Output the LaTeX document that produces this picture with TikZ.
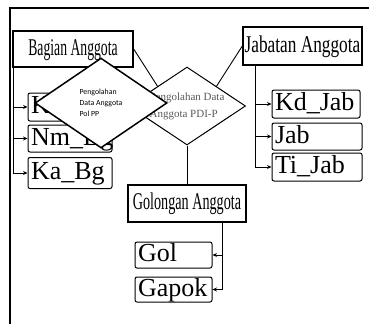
\documentclass[tikz,border=0pt]{standalone}
\usepackage{fontspec}
\setmainfont{Liberation Serif}
\newfontfamily\calibrifont{Carlito}
\usetikzlibrary{shapes.geometric,arrows.meta}
\newcommand{\condtext}[2]{\scalebox{#1}[1]{#2}}

\begin{document}
\begin{tikzpicture}[x=1pt,y=-1pt,>={Stealth[length=4.5pt,width=4pt]},
	entity/.style={draw, line width=1.4pt, inner sep=0pt, font=\fontsize{24}{24}\selectfont, text height=17pt, text depth=5pt},
	attr/.style={draw, line width=1pt, rounded corners=2pt, inner xsep=3pt, inner ysep=0pt, minimum height=28pt, text width=#1, align=left, font=\fontsize{26}{26}\selectfont, text height=18pt, text depth=5pt},
	link/.style={line width=0.9pt},
	relation/.style={draw, diamond, inner sep=0pt, line width=1pt}]
				\useasboundingbox (0,0) rectangle (369,324);
				% Frame
				\draw[line width=2.5pt] (369,8) -- (10,8) -- (10,324);
				
				% Bagian Anggota
				\node[entity, minimum width=120pt, minimum height=36pt] (bag) at (73,49) {\condtext{0.57}{Bagian Anggota}};
				\node[attr=78pt] (kdbg) at (70,107) {Kd\_Bg};
				\node[attr=78pt, minimum height=27pt] (nmbg) at (70,138.5) {Nm\_Bg};
				\node[attr=78pt, minimum height=31pt] (kabg) at (70,173) {Ka\_Bg};
				\coordinate (bt) at (13.5,67);
				\draw[link, ->] (bt) |- (kabg.west);
				\draw[link, ->] (bt |- kdbg.west) -- (kdbg.west);
				\draw[link, ->] (bt |- nmbg.west) -- (nmbg.west);
				
				% Jabatan Anggota
				\node[entity, minimum width=119pt, minimum height=38pt] (jabat) at (302.5,46) {\condtext{0.72}{Jabatan Anggota}};
				\node[attr=82pt] (kdjab) at (316,104) {Kd\_Jab};
				\node[attr=84pt, minimum height=27pt] (jab) at (317,136.5) {Jab};
				\node[attr=84pt] (tijab) at (317,167) {Ti\_Jab};
				\coordinate (jt) at (255,65);
				\draw[link, ->] (jt) |- (tijab.west);
				\draw[link, ->] (jt |- kdjab.west) -- (kdjab.west);
				\draw[link, ->] (jt |- jab.west) -- (jab.west);
				
				% Golongan Anggota
				\node[entity, minimum width=118pt, minimum height=37pt] (gols) at (187,203.5) {\condtext{0.59}{Golongan Anggota}};
				\node[attr=71pt, minimum height=26pt] (gol) at (173.5,255) {Gol};
				\node[attr=71pt, minimum height=25pt] (gapok) at (173.5,289.5) {Gapok};
				\coordinate (gt) at (222,222);
				\draw[link, ->] (gt) |- (gapok.east);
				\draw[link, ->] (gt |- gol.east) -- (gol.east);
				
				% Relation PDI-P
				\node[relation, minimum width=117pt, minimum height=78pt, shape aspect=1.5, align=left, text=black!65, font=\fontsize{11}{17}\selectfont] (dia) at (187,106) {Pengolahan Data\\Anggota PDI-P};
				\draw[link] (bag.east) -- (dia.north west);
				\draw[link] (jabat.west) -- (dia.north east);
				\draw[link] (dia.south) -- (gols.north);
				
				% Relation Pol PP
				\node[relation, fill=white, line width=1.5pt, minimum width=132pt, minimum height=90pt, align=left, font=\calibrifont\fontsize{7.8}{11}\selectfont] (pol) at (101,103) {Pengolahan\\Data Anggota\\Pol PP};
			\end{tikzpicture}
\end{document}
